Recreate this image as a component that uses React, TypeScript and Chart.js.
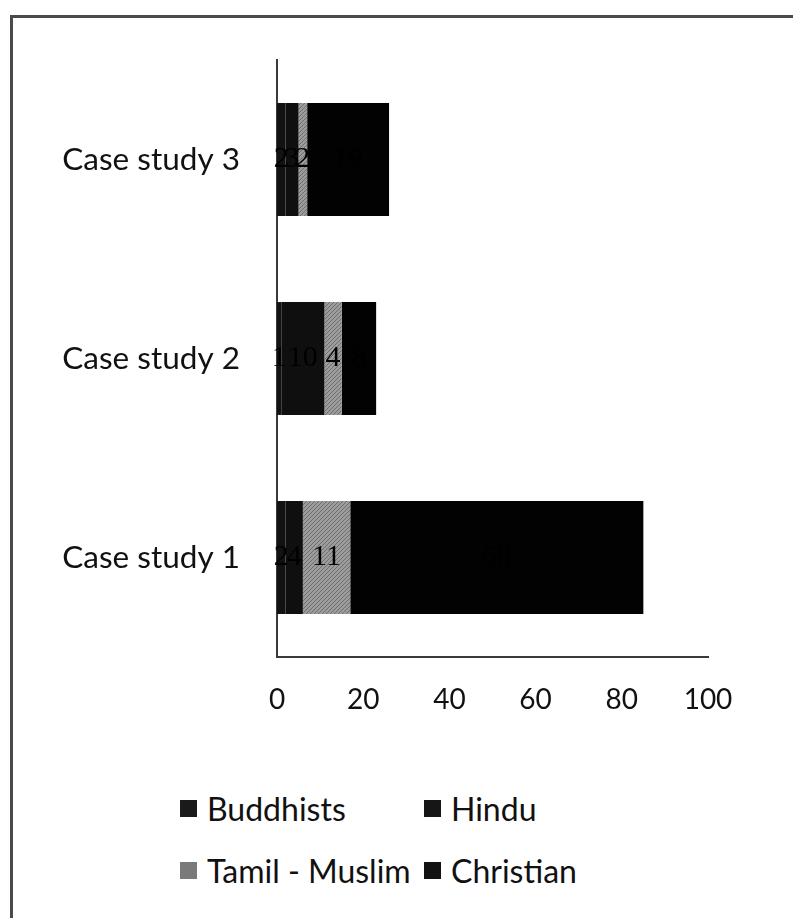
import React, { useEffect, useRef } from "react";
import Chart from "chart.js/auto";

const categories = ["Case study 1", "Case study 2", "Case study 3"];
const seriesNames = ["Buddhists", "Hindu", "Tamil - Muslim", "Christian"];
const buddhists = [2, 1, 2];
const hindu = [4, 10, 3];
const tamilMuslim = [11, 4, 2];
const christian = [68, 8, 19];
const xMin = 0;
const xMax = 100;
const xStep = 20;
const seriesColors = ["#121212", "#0f0f0f", "#8c8c8c", "#020202"];
const legendColors = ["#1a1a1a", "#161616", "#7a7a7a", "#121212"];

const seriesValues = [buddhists, hindu, tamilMuslim, christian];

const FONT = "Lato, 'Open Sans', sans-serif";

function makeHatch(base: string): CanvasPattern | string {
  const c = document.createElement("canvas");
  c.width = 4;
  c.height = 4;
  const g = c.getContext("2d");
  if (!g) return base;
  g.fillStyle = "#9c9c9c";
  g.fillRect(0, 0, 4, 4);
  g.fillStyle = "#6e6e6e";
  for (let i = 0; i < 4; i++) g.fillRect(i, 3 - i, 1, 1);
  const p = g.createPattern(c, "repeat");
  return p || base;
}

const dataLabelPlugin = {
  id: "segLabels",
  afterDatasetsDraw(chart: any) {
    const ctx = chart.ctx;
    ctx.save();
    ctx.font = "30px 'Liberation Serif', serif";
    ctx.fillStyle = "#000";
    ctx.textAlign = "center";
    ctx.textBaseline = "middle";
    chart.data.datasets.forEach((ds: any, i: number) => {
      const meta = chart.getDatasetMeta(i);
      meta.data.forEach((el: any, j: number) => {
        const p = el.getCenterPoint();
        ctx.fillText(String(ds.data[j]), p.x, p.y);
      });
    });
    ctx.restore();
  },
};

export default function App() {
  const ref = useRef<HTMLCanvasElement | null>(null);
  useEffect(() => {
    document.body.style.margin = "0";
    const canvas = ref.current;
    if (!canvas) return;
    const chart = new Chart(canvas, {
      type: "bar",
      data: {
        labels: categories,
        datasets: seriesNames.map((name, i) => ({
          label: name,
          data: seriesValues[i],
          backgroundColor: i === 2 ? makeHatch(seriesColors[i]) : seriesColors[i],
          borderWidth: 0,
          barPercentage: 0.9,
          categoryPercentage: 0.63,
        })),
      },
      options: {
        indexAxis: "y",
        responsive: false,
        animation: false,
        maintainAspectRatio: false,
        layout: { padding: { top: 60, right: 85, left: 0, bottom: 0 } },
        plugins: {
          legend: { display: false },
          tooltip: { enabled: false },
        },
        scales: {
          x: {
            stacked: true,
            min: xMin,
            max: xMax,
            ticks: {
              stepSize: xStep,
              color: "#111",
              font: { family: FONT, size: 28 },
              padding: 26,
            },
            grid: { display: false, drawTicks: false },
            border: { display: true, color: "#3a3a3a", width: 2 },
            afterFit: (s: any) => {
              s.height = 113;
            },
          },
          y: {
            stacked: true,
            reverse: true,
            ticks: {
              color: "#111",
              font: { family: FONT, size: 31.5 },
              padding: 37,
            },
            grid: { display: false, drawTicks: false },
            border: { display: true, color: "#3a3a3a", width: 2 },
            afterFit: (s: any) => {
              s.width = 277;
            },
          },
        },
      },
      plugins: [dataLabelPlugin],
    });
    return () => chart.destroy();
  }, []);

  const legendPos = [
    { left: 180, top: 808 },
    { left: 424, top: 808 },
    { left: 180, top: 870 },
    { left: 424, top: 870 },
  ];

  return (
    <div style={{ position: "relative", width: 793, height: 918, background: "#fff", overflow: "hidden" }}>
      <div
        style={{
          position: "absolute",
          left: 10,
          top: 15,
          right: 0,
          bottom: 0,
          borderTop: "3px solid #4a4a4a",
          borderLeft: "3px solid #4a4a4a",
        }}
      />
      <canvas ref={ref} width={793} height={770} style={{ position: "absolute", left: 0, top: 0 }} />
      {seriesNames.map((name, i) => (
        <div
          key={name}
          style={{
            position: "absolute",
            left: legendPos[i].left,
            top: legendPos[i].top - 20,
            height: 40,
            display: "flex",
            alignItems: "center",
            fontFamily: FONT,
            fontSize: 32,
            color: "#111",
            whiteSpace: "nowrap",
          }}
        >
          <span
            style={{
              display: "inline-block",
              width: 17,
              height: 17,
              background: legendColors[i],
              marginRight: 10,
            }}
          />
          {name}
        </div>
      ))}
    </div>
  );
}
